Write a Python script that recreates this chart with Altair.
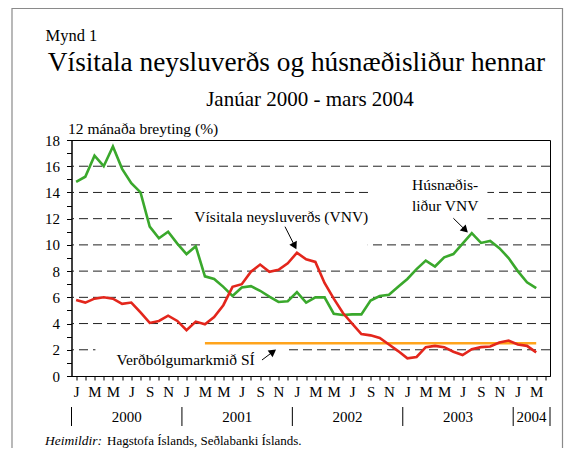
import altair as alt
import pandas as pd

# ---------------- data ----------------
month_letters = ["J", "", "M", "", "M", "", "J", "", "S", "", "N", ""]
years = ["2000", "2001", "2002", "2003", "2004"]
year_centers = [5.5, 17.5, 29.5, 41.5, 49.5]
year_bounds = [-0.5, 11.5, 23.5, 35.5, 47.5, 51.5]

# 12-month change, Jan 2000 - Mar 2004 (51 months)
vnv = [5.8, 5.6, 5.9, 6.0, 5.9, 5.5, 5.6, 4.85, 4.05, 4.2, 4.6, 4.2,
       3.5, 4.15, 3.95, 4.5, 5.4, 6.8, 7.0, 7.95, 8.5, 7.95, 8.1, 8.6,
       9.4, 8.9, 8.7, 7.1, 5.9, 4.8, 4.0, 3.2, 3.1, 2.9, 2.4, 1.9,
       1.35, 1.45, 2.2, 2.3, 2.2, 1.85, 1.6, 2.05, 2.2, 2.25, 2.55, 2.7,
       2.4, 2.3, 1.8]
housing = [14.8, 15.2, 16.8, 16.0, 17.5, 15.8, 14.7, 14.0, 11.4, 10.5, 11.0, 10.1,
           9.3, 9.9, 7.6, 7.4, 6.8, 6.1, 6.75, 6.85, 6.5, 6.05, 5.65, 5.7,
           6.4, 5.6, 6.0, 6.0, 4.75, 4.65, 4.7, 4.7, 5.75, 6.1, 6.2, 6.8,
           7.4, 8.15, 8.8, 8.35, 9.05, 9.3, 10.1, 10.9, 10.15, 10.3, 9.75, 9.0,
           8.0, 7.15, 6.7]
target_value = 2.5
target_start = 14  # March 2001

y_ticks = list(range(0, 19))
grid_values = [2, 4, 6, 8, 10, 12, 14, 16]

series_names = ["Vísitala neysluverðs", "Húsnæðisliður", "Verðbólgumarkmið"]
series_colors = ["#e3261c", "#3aa82c", "#ffa41c"]

FONT = "Liberation Serif"

rows = []
for i, v in enumerate(vnv):
    rows.append({"i": i, "v": v, "s": series_names[0]})
for i, v in enumerate(housing):
    rows.append({"i": i, "v": v, "s": series_names[1]})
for i in range(target_start, len(vnv)):
    rows.append({"i": i, "v": target_value, "s": series_names[2]})
lines_df = pd.DataFrame(rows)

xscale = alt.Scale(domain=[-0.5, 51.5], nice=False, zero=False)
yscale = alt.Scale(domain=[0, 18], nice=False, zero=True)
cscale = alt.Scale(domain=series_names, range=series_colors)

letters_js = "[" + ",".join("'" + m + "'" for m in month_letters) + "]"

x_axis = alt.Axis(values=list(range(52)), labelExpr=letters_js + "[datum.value % 12]",
                  tickSize=4, labelPadding=4, labelAngle=0, labelOverlap=False,
                  labelFlush=False, labelFont=FONT, labelFontSize=15, labelColor="black",
                  domainColor="black", tickColor="black", grid=False, title=None)
y_axis = alt.Axis(values=y_ticks, labelExpr="datum.value % 2 == 0 ? datum.label : ''",
                  tickSize=5, labelPadding=7, labelFont=FONT, labelFontSize=15,
                  labelColor="black", domainColor="black", tickColor="black",
                  grid=False, title=None, labelOverlap=False)


def X(f="i"):
    return alt.X(f + ":Q", scale=xscale, axis=x_axis)


def Y(f="v"):
    return alt.Y(f + ":Q", scale=yscale, axis=y_axis)


# grid lines (dashed)
grid = alt.Chart(pd.DataFrame({"v": grid_values})).mark_rule(
    color="#222", strokeWidth=1, strokeDash=[9, 5]).encode(y=Y())

# white boxes behind annotation texts
boxes_df = pd.DataFrame({
    "i": [10.75, 14.0, 32.2, 2.1],
    "i2": [32.3, 31.7, 44.7, 23.0],
    "v": [11.3, 9.6, 11.5, 1.4],
    "v2": [12.8, 10.4, 14.6, 2.3],
})
boxes = alt.Chart(boxes_df).mark_rect(color="white").encode(
    x=X(), x2="i2:Q", y=Y(), y2="v2:Q")

lines = alt.Chart(lines_df).mark_line(strokeWidth=2.6).encode(
    x=X(), y=Y(),
    color=alt.Color("s:N", scale=cscale, legend=None),
    order=alt.Order("i:Q"),
)
target = lines.transform_filter(alt.datum.s == series_names[2])
green = lines.transform_filter(alt.datum.s == series_names[1])
red = lines.transform_filter(alt.datum.s == series_names[0])

# annotations (data coordinates)
ann_df = pd.DataFrame({
    "t": ["Vísitala neysluverðs (VNV)", "Húsnæðis-", "liður VNV", "Verðbólgumarkmið SÍ"],
    "i": [22.3, 40.1, 40.1, 11.9],
    "v": [12.1, 14.6, 13.0, 1.22],
})
ann = alt.Chart(ann_df).mark_text(font=FONT, fontSize=15.5, color="black",
                                  baseline="middle", align="center").encode(
    x=X(), y=Y(), text="t:N")

arrows_df = pd.DataFrame({
    "i": [22.7, 41.0, 20.2],
    "v": [11.39, 12.03, 1.22],
    "i2": [23.7, 42.2, 21.3],
    "v2": [10.0, 11.2, 1.8],
    "ang": [153.0, 135.0, 54.0],
})
arrow_lines = alt.Chart(arrows_df).mark_rule(color="black", strokeWidth=1).encode(
    x=X(), x2="i2:Q", y=Y(), y2="v2:Q")
arrow_heads = alt.Chart(arrows_df).mark_point(shape="triangle", filled=True,
                                              color="black", size=70, opacity=1).encode(
    x=X("i2"), y=Y("v2"), angle=alt.Angle("ang:Q", scale=None))

# year labels and separators below the axis
years_df = pd.DataFrame({"i": year_centers, "t": years})
year_text = alt.Chart(years_df).mark_text(font=FONT, fontSize=15, color="black",
                                          baseline="middle").encode(
    x=X(), y=alt.value(277), text="t:N")
year_sep = alt.Chart(pd.DataFrame({"i": year_bounds})).mark_rule(
    color="black", strokeWidth=1).encode(x=X(), y=alt.value(267), y2=alt.value(286))

one = pd.DataFrame({"a": [0]})


def label(text, x, y, size, align="left", style="normal"):
    return alt.Chart(one).mark_text(font=FONT, fontSize=size, align=align,
                                    baseline="middle", color="black",
                                    fontStyle=style).encode(
        x=alt.value(x), y=alt.value(y), text=alt.value(text))


frame = alt.Chart(one).mark_rect(fillOpacity=0, stroke="#8a8a8a", strokeWidth=1.2).encode(
    x=alt.value(-59.5), x2=alt.value(491), y=alt.value(-131.5), y2=alt.value(420))

texts = [
    label("Mynd 1", -26, -104, 16.5),
    label("Vísitala neysluverðs og húsnæðisliður hennar", 225, -77, 27.3, align="center"),
    label("Janúar 2000 - mars 2004", 238.5, -40, 21, align="center"),
    label("12 mánaða breyting (%)", -3.5, -11, 15.5),
    label("Heimildir:", -26.5, 301, 13.5, style="italic"),
    label("Hagstofa Íslands, Seðlabanki Íslands.", 35.5, 301, 13),
]

chart = alt.layer(
    frame, grid, boxes, target, green, red, ann, arrow_lines, arrow_heads,
    year_text, year_sep, *texts
).properties(
    width=478.5, height=236,
    padding={"left": 63.5, "top": 132, "right": 14, "bottom": 72},
    autosize=alt.AutoSizeParams(type="none"),
).configure_view(stroke="black", strokeWidth=1)

chart.save("out.html", embed_options={"renderer": "svg", "actions": False})
